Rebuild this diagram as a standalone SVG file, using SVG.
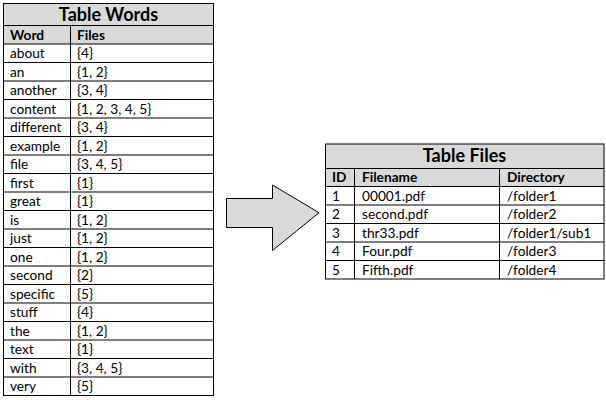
<svg xmlns="http://www.w3.org/2000/svg" width="606" height="400" viewBox="0 0 606 400">
<style>
.t{font-family:Lato,"Open Sans","Liberation Sans",sans-serif;font-size:13.7px;fill:#000}
.h{font-weight:bold}
.ti{font-family:Lato,"Open Sans","Liberation Sans",sans-serif;font-size:18px;font-weight:bold;fill:#000;text-anchor:middle}
.g{fill:#d9d9d9}
.ln{stroke:#000;stroke-width:1;fill:none}
</style>
<rect width="606" height="400" fill="#fff"/>
<g id="table-words">
<rect class="g" x="3.5" y="3.5" width="210" height="40.5"/>
<rect class="ln" x="3.5" y="3.5" width="210" height="392"/>
<path class="ln" d="M3.5 25.5H213.5M3.5 44H213.5M3.5 62.5H213.5M3.5 81H213.5M3.5 99.5H213.5M3.5 118H213.5M3.5 136.5H213.5M3.5 155H213.5M3.5 173.5H213.5M3.5 192H213.5M3.5 210.5H213.5M3.5 229H213.5M3.5 247.5H213.5M3.5 266H213.5M3.5 284.5H213.5M3.5 303H213.5M3.5 321.5H213.5M3.5 340H213.5M3.5 358.5H213.5M3.5 377H213.5M70.5 25.5V395.5"/>
<text class="ti" x="108.5" y="20.5">Table Words</text>
<text class="t h" x="10" y="39.7">Word</text>
<text class="t h" x="77" y="39.7">Files</text>
<text class="t" x="10" y="58">about</text><text class="t" x="77" y="58">{4}</text>
<text class="t" x="10" y="76.5">an</text><text class="t" x="77" y="76.5">{1, 2}</text>
<text class="t" x="10" y="95">another</text><text class="t" x="77" y="95">{3, 4}</text>
<text class="t" x="10" y="113.5">content</text><text class="t" x="77" y="113.5">{1, 2, 3, 4, 5}</text>
<text class="t" x="10" y="132">different</text><text class="t" x="77" y="132">{3, 4}</text>
<text class="t" x="10" y="150.5">example</text><text class="t" x="77" y="150.5">{1, 2}</text>
<text class="t" x="10" y="169">file</text><text class="t" x="77" y="169">{3, 4, 5}</text>
<text class="t" x="10" y="187.5">first</text><text class="t" x="77" y="187.5">{1}</text>
<text class="t" x="10" y="206">great</text><text class="t" x="77" y="206">{1}</text>
<text class="t" x="10" y="224.5">is</text><text class="t" x="77" y="224.5">{1, 2}</text>
<text class="t" x="10" y="243">just</text><text class="t" x="77" y="243">{1, 2}</text>
<text class="t" x="10" y="261.5">one</text><text class="t" x="77" y="261.5">{1, 2}</text>
<text class="t" x="10" y="280">second</text><text class="t" x="77" y="280">{2}</text>
<text class="t" x="10" y="298.5">specific</text><text class="t" x="77" y="298.5">{5}</text>
<text class="t" x="10" y="317">stuff</text><text class="t" x="77" y="317">{4}</text>
<text class="t" x="10" y="335.5">the</text><text class="t" x="77" y="335.5">{1, 2}</text>
<text class="t" x="10" y="354">text</text><text class="t" x="77" y="354">{1}</text>
<text class="t" x="10" y="372.5">with</text><text class="t" x="77" y="372.5">{3, 4, 5}</text>
<text class="t" x="10" y="391">very</text><text class="t" x="77" y="391">{5}</text>
</g>
<g id="connectors">
<path d="M226.5 198.5H272.5V185L319 212.7L272.5 250.5V227.5H226.5Z" fill="#d9d9d9" stroke="#000" stroke-width="1" stroke-linejoin="miter"/>
</g>
<g id="table-files">
<rect class="g" x="325.5" y="144" width="278.5" height="42.5"/>
<rect class="ln" x="325.5" y="144" width="278.5" height="135"/>
<path class="ln" d="M325.5 168.5H604M325.5 186.5H604M325.5 205H604M325.5 223.5H604M325.5 242H604M325.5 260.5H604M354.5 168.5V279M499.5 168.5V279"/>
<text class="ti" x="464.5" y="162">Table Files</text>
<text class="t h" x="332" y="182.2">ID</text>
<text class="t h" x="362" y="182.2">Filename</text>
<text class="t h" x="507" y="182.2">Directory</text>
<text class="t" x="332" y="200.5">1</text><text class="t" x="362" y="200.5">00001.pdf</text><text class="t" x="507" y="200.5">/folder1</text>
<text class="t" x="332" y="219">2</text><text class="t" x="362" y="219">second.pdf</text><text class="t" x="507" y="219">/folder2</text>
<text class="t" x="332" y="237.5">3</text><text class="t" x="362" y="237.5">thr33.pdf</text><text class="t" x="507" y="237.5">/folder1/sub1</text>
<text class="t" x="332" y="256">4</text><text class="t" x="362" y="256">Four.pdf</text><text class="t" x="507" y="256">/folder3</text>
<text class="t" x="332" y="274.5">5</text><text class="t" x="362" y="274.5">Fifth.pdf</text><text class="t" x="507" y="274.5">/folder4</text>
</g>
</svg>
